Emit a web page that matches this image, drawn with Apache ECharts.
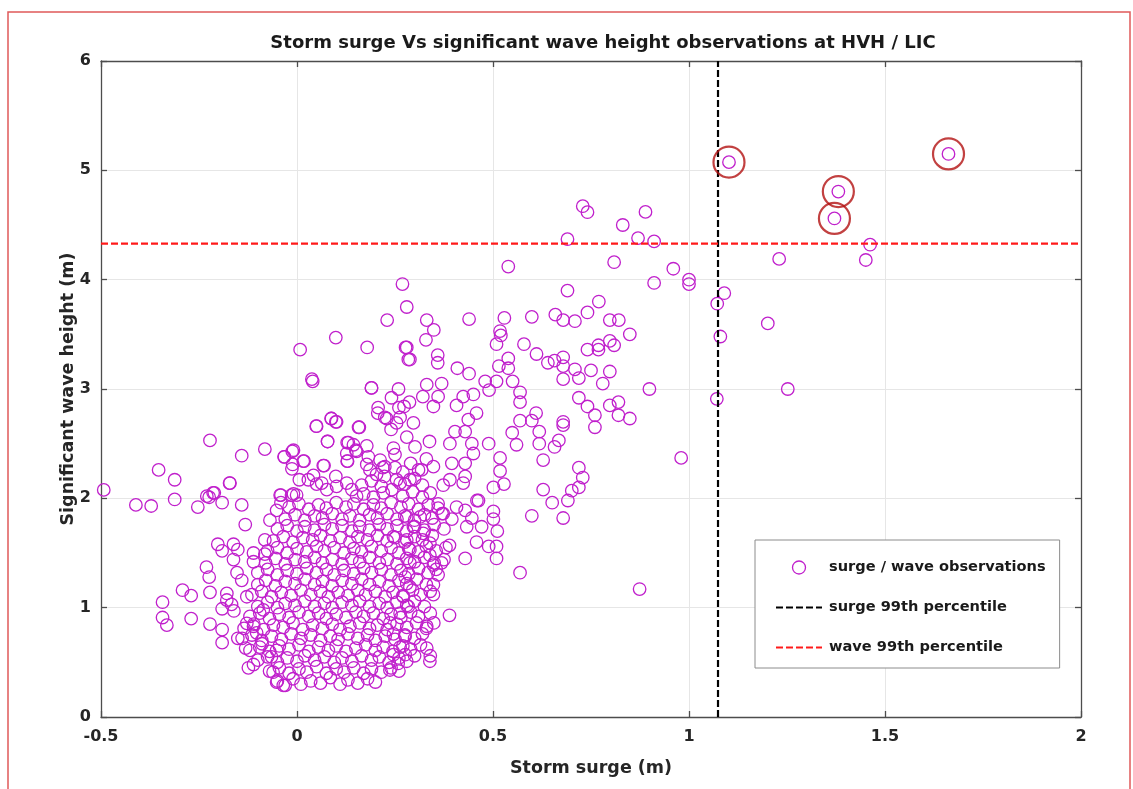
<!DOCTYPE html>
<html>
<head>
<meta charset="utf-8">
<script src="https://cdn.jsdelivr.net/npm/echarts@6/dist/echarts.min.js"></script>
<style>
html,body{margin:0;padding:0;background:#fff;}
#chart{width:1133px;height:789px;}
</style>
</head>
<body>
<div id="chart"></div>
<script>
// ---- data ----
const titleText = 'Storm surge Vs significant wave height observations at HVH / LIC';
const xAxisName = 'Storm surge (m)';
const yAxisName = 'Significant wave height (m)';
const xTicks = [-0.5, 0, 0.5, 1, 1.5, 2];
const yTicks = [0, 1, 2, 3, 4, 5, 6];
const surgeP99 = 1.074;
const waveP99 = 4.33;

// outliers and sparse points (surge m, wave m)
const sparsePoints = [
  [1.102,5.075],[1.381,4.806],[1.371,4.56],[1.662,5.15],[1.462,4.32],[1.451,4.18],[1.230,4.19],
  [1.090,3.876],[1.072,3.78],[1.201,3.60],[1.080,3.48],[1.252,3.00],[1.071,2.91],
  [0.729,4.672],[0.741,4.617],[0.889,4.62],[0.831,4.50],[0.690,4.37],[0.870,4.38],[0.911,4.35],
  [0.539,4.12],[0.809,4.16],[0.960,4.10],[1.000,4.00],[1.000,3.96],[0.911,3.97],[0.269,3.96],
  [0.690,3.90],[0.770,3.80],[0.280,3.75],[0.741,3.70],[0.659,3.68],[0.599,3.66],[0.230,3.63],
  [0.439,3.64],[0.529,3.65],[0.331,3.63],[0.679,3.63],[0.709,3.62],[0.798,3.63],[0.821,3.63],
  [0.349,3.54],[0.518,3.53],[0.520,3.49],[0.849,3.50],[0.329,3.45],[0.798,3.44],[0.809,3.40],
  [0.769,3.40],[0.769,3.36],[0.741,3.36],[0.509,3.41],[0.579,3.41],[0.280,3.38],[0.288,3.27],
  [0.359,3.31],[0.359,3.24],[0.611,3.32],[0.539,3.28],[0.539,3.19],[0.640,3.24],[0.679,3.29],
  [0.679,3.21],[0.679,3.09],[0.657,3.26],[0.709,3.18],[0.719,3.10],[0.750,3.17],[0.798,3.16],
  [0.780,3.05],[0.515,3.21],[0.409,3.19],[0.439,3.14],[0.480,3.07],[0.490,2.99],[0.509,3.07],
  [0.550,3.07],[0.569,2.97],[0.569,2.88],[0.899,3.00],[0.719,2.92],[0.741,2.84],[0.760,2.76],
  [0.760,2.65],[0.798,2.85],[0.820,2.88],[0.820,2.76],[0.849,2.73],[0.610,2.78],[0.599,2.71],
  [0.569,2.71],[0.618,2.61],[0.618,2.50],[0.549,2.60],[0.560,2.49],[0.679,2.70],[0.679,2.67],
  [0.668,2.53],[0.657,2.47],[0.628,2.35],[0.489,2.50],[0.518,2.37],[0.518,2.25],[0.528,2.13],
  [0.501,2.10],[0.719,2.28],[0.729,2.19],[0.719,2.10],[0.701,2.07],[0.691,1.98],[0.628,2.08],
  [0.651,1.96],[0.599,1.84],[0.679,1.82],[0.980,2.37],[0.874,1.17],[0.569,1.32],[0.501,1.88],
  [0.501,1.81],[0.511,1.70],[0.459,1.98],[0.471,1.74],[0.458,1.60],[0.489,1.56],[0.509,1.56],
  [0.509,1.45],[0.429,1.45],[0.389,1.57],[0.433,1.74],[0.446,1.82],[0.389,0.93],[0.331,0.83],
  [0.349,0.86],[0.331,0.63],[0.339,0.51],[0.348,1.12],[0.348,1.21],[0.360,1.30],[0.369,1.41],
  [0.099,3.47],[0.008,3.36],[0.179,3.38],[0.277,3.38],[0.284,3.27],[0.038,3.09],[0.190,3.01],
  [0.259,3.00],[0.241,2.92],[0.207,2.83],[0.260,2.83],[0.273,2.84],[0.088,2.73],[0.101,2.70],
  [0.206,2.78],[0.229,2.73],[0.240,2.63],[0.254,2.69],[0.050,2.66],[0.159,2.65],[0.078,2.52],
  [0.131,2.51],[0.144,2.49],[0.127,2.41],[0.129,2.34],[0.152,2.43],[0.178,2.48],[0.182,2.38],
  [0.178,2.31],[0.186,2.26],[0.212,2.35],[0.219,2.28],[0.203,2.22],[0.223,2.20],[0.246,2.46],
  [0.250,2.28],[0.254,2.17],[0.242,2.08],[-0.222,2.53],[-0.141,2.39],[-0.082,2.45],[-0.033,2.38],
  [-0.009,2.44],[-0.011,2.31],[0.018,2.34],[0.067,2.30],[0.006,2.17],[0.029,2.17],[0.042,2.21],
  [0.050,2.13],[0.063,2.14],[0.076,2.08],[0.101,2.11],[0.099,2.20],[0.127,2.14],[0.140,2.08],
  [0.152,2.02],[-0.171,2.14],[-0.214,2.05],[-0.230,2.02],[-0.043,2.03],[-0.014,2.03],
  [0.287,2.88],[0.321,2.93],[0.348,2.84],[0.369,3.05],[0.360,2.93],[0.331,3.04],
  [0.407,2.85],[0.424,2.93],[0.450,2.95],[0.458,2.78],[0.437,2.72],[0.429,2.61],[0.403,2.61],
  [0.390,2.50],[0.338,2.52],[0.301,2.47],[0.280,2.56],[0.224,2.74],[0.263,2.74],[0.297,2.69],
  [0.446,2.50],[0.450,2.41],[0.429,2.32],[0.429,2.20],[0.424,2.14],[0.395,2.32],[0.390,2.17],
  [0.373,2.12],[0.348,2.29],[0.318,2.26],[0.288,2.17],[0.263,2.14],[0.224,2.29],
  [0.463,1.98],[0.429,1.89],[0.407,1.92],[0.373,1.86],[0.360,1.95],[0.314,1.83],[0.280,1.83],
  [0.297,1.74],[0.280,1.62],[0.246,1.65],[0.322,1.68],[0.339,1.59],[0.339,1.48],[0.348,1.39],
  [0.288,1.53],[0.288,1.41],[0.276,1.28],[0.288,1.19],[0.271,1.10],[0.284,1.01],[0.263,0.95],
  [0.237,0.86],[0.246,0.76],[0.276,0.74],[0.263,0.64],[0.246,0.57],[0.276,0.57],[0.258,0.49],
  [0.237,0.43],
  [-0.493,2.077],[-0.411,1.94],[-0.372,1.93],[-0.353,2.26],[-0.312,2.17],[-0.312,1.99],
  [-0.253,1.92],[-0.224,2.01],[-0.211,2.05],[-0.191,1.96],[-0.172,2.14],[-0.141,1.94],
  [-0.132,1.76],[-0.032,2.38],[-0.012,2.43],[-0.013,2.27],[0.016,2.34],[0.049,2.66],
  [0.087,2.73],[0.099,2.70],[0.157,2.65],[0.190,3.01],[0.040,3.07],[0.078,2.52],[0.069,2.30],
  [0.128,2.51],[0.128,2.34],[0.150,2.44],[-0.202,1.58],[-0.191,1.52],[-0.162,1.58],
  [-0.151,1.53],[-0.162,1.44],[-0.231,1.37],[-0.224,1.28],[-0.292,1.16],[-0.270,1.11],
  [-0.343,1.05],[-0.343,0.91],[-0.332,0.84],[-0.270,0.90],[-0.222,1.14],[-0.222,0.85],
  [-0.191,0.80],[-0.191,0.68],[-0.179,1.13],[-0.179,1.07],[-0.167,1.03],[-0.161,0.97],
  [-0.191,0.99],[-0.151,0.72],[-0.131,0.63],[-0.124,0.45],[-0.111,0.48],[-0.153,1.32],
  [-0.141,1.25],[-0.128,1.10],[-0.128,0.857],[-0.111,0.83],[-0.086,0.98],[-0.103,0.77],
  [-0.089,0.67],[-0.111,1.50],[-0.111,1.42],[-0.082,1.49],[-0.082,1.62],[-0.069,1.80],
  [-0.052,1.89],[-0.041,2.03],[-0.041,1.96],[-0.009,2.04],[-0.001,2.03],[-0.061,0.41],
  [-0.052,0.32],[-0.035,0.29],[-0.065,0.55],[-0.052,0.61]
];

// dense core of the cloud (surge m, wave m)
const corePoints = [
  [-0.05,0.33],[-0.03,0.29],[-0.01,0.35],[0.01,0.30],[0.035,0.33],[0.06,0.31],[0.085,0.36],[0.11,0.30],[0.13,0.34],[0.155,0.31],[0.18,0.35],[0.2,0.32],
  [-0.07,0.42],[-0.045,0.45],[-0.02,0.40],[0.005,0.44],[0.025,0.41],[0.05,0.46],[0.075,0.40],[0.1,0.44],[0.12,0.41],[0.145,0.45],[0.17,0.40],[0.19,0.44],[0.215,0.41],[0.24,0.45],[0.26,0.42],[0.34,0.56],
  [-0.1,0.52],[-0.075,0.55],[-0.05,0.50],[-0.025,0.54],[0.0,0.51],[0.02,0.56],[0.045,0.52],[0.07,0.55],[0.095,0.50],[0.115,0.54],[0.14,0.51],[0.165,0.56],[0.19,0.52],[0.21,0.55],[0.235,0.50],[0.26,0.54],[0.28,0.51],[0.3,0.56],
  [-0.12,0.61],[-0.095,0.64],[-0.07,0.60],[-0.045,0.65],[-0.02,0.62],[0.005,0.66],[0.03,0.60],[0.055,0.64],[0.08,0.61],[0.1,0.65],[0.125,0.60],[0.15,0.63],[0.175,0.66],[0.2,0.61],[0.22,0.64],[0.245,0.60],[0.27,0.65],[0.29,0.62],[0.315,0.66],
  [-0.14,0.72],[-0.115,0.75],[-0.09,0.70],[-0.065,0.74],[-0.04,0.71],[-0.015,0.76],[0.01,0.72],[0.035,0.75],[0.06,0.70],[0.085,0.74],[0.105,0.71],[0.13,0.76],[0.155,0.72],[0.18,0.75],[0.2,0.70],[0.225,0.74],[0.25,0.71],[0.275,0.75],[0.3,0.72],[0.32,0.76],
  [-0.135,0.81],[-0.11,0.85],[-0.085,0.80],[-0.06,0.84],[-0.035,0.82],[-0.01,0.86],[0.015,0.80],[0.04,0.84],[0.065,0.81],[0.09,0.85],[0.11,0.80],[0.135,0.83],[0.16,0.86],[0.185,0.81],[0.205,0.84],[0.23,0.80],[0.255,0.85],[0.28,0.82],[0.305,0.86],[0.33,0.81],
  [-0.12,0.92],[-0.095,0.95],[-0.07,0.90],[-0.045,0.94],[-0.02,0.91],[0.005,0.96],[0.03,0.92],[0.055,0.95],[0.075,0.90],[0.1,0.94],[0.125,0.91],[0.15,0.96],[0.17,0.92],[0.195,0.95],[0.22,0.90],[0.24,0.94],[0.265,0.91],[0.29,0.96],[0.31,0.92],[0.34,0.95],
  [-0.1,1.01],[-0.075,1.05],[-0.05,1.00],[-0.03,1.04],[-0.005,1.02],[0.02,1.06],[0.045,1.01],[0.07,1.04],[0.09,1.00],[0.115,1.05],[0.14,1.02],[0.16,1.06],[0.185,1.01],[0.21,1.04],[0.23,1.00],[0.255,1.05],[0.28,1.02],[0.3,1.06],[0.325,1.01],
  [-0.115,1.12],[-0.09,1.15],[-0.065,1.10],[-0.04,1.14],[-0.015,1.11],[0.01,1.16],[0.035,1.12],[0.06,1.15],[0.08,1.10],[0.105,1.14],[0.13,1.11],[0.155,1.16],[0.175,1.12],[0.2,1.15],[0.225,1.10],[0.245,1.14],[0.27,1.11],[0.295,1.16],[0.315,1.12],[0.34,1.15],
  [-0.1,1.21],[-0.08,1.25],[-0.055,1.20],[-0.03,1.24],[-0.005,1.22],[0.02,1.26],[0.045,1.21],[0.065,1.24],[0.09,1.20],[0.115,1.25],[0.14,1.22],[0.165,1.26],[0.185,1.21],[0.21,1.24],[0.235,1.20],[0.26,1.25],[0.28,1.22],[0.305,1.26],[0.33,1.21],
  [-0.1,1.32],[-0.075,1.35],[-0.05,1.30],[-0.025,1.34],[0.0,1.31],[0.025,1.36],[0.05,1.32],[0.075,1.35],[0.095,1.30],[0.12,1.34],[0.145,1.31],[0.17,1.36],[0.19,1.32],[0.215,1.35],[0.24,1.30],[0.265,1.34],[0.285,1.31],[0.31,1.36],[0.335,1.32],[0.355,1.35],
  [-0.08,1.41],[-0.055,1.45],[-0.03,1.40],[-0.005,1.44],[0.02,1.42],[0.045,1.46],[0.065,1.41],[0.09,1.44],[0.115,1.40],[0.14,1.45],[0.16,1.42],[0.185,1.46],[0.21,1.41],[0.23,1.44],[0.255,1.40],[0.28,1.45],[0.3,1.42],[0.325,1.46],[0.35,1.41],[0.375,1.44],
  [-0.075,1.52],[-0.05,1.55],[-0.025,1.50],[0.0,1.54],[0.025,1.51],[0.05,1.56],[0.07,1.52],[0.095,1.55],[0.12,1.50],[0.145,1.54],[0.165,1.51],[0.19,1.56],[0.215,1.52],[0.24,1.55],[0.26,1.50],[0.285,1.54],[0.31,1.51],[0.33,1.56],[0.355,1.52],[0.38,1.55],
  [-0.06,1.61],[-0.035,1.65],[-0.01,1.60],[0.015,1.64],[0.04,1.62],[0.06,1.66],[0.085,1.61],[0.11,1.64],[0.135,1.60],[0.155,1.65],[0.18,1.62],[0.205,1.66],[0.23,1.61],[0.25,1.64],[0.275,1.60],[0.3,1.65],[0.32,1.62],[0.345,1.66],
  [-0.05,1.72],[-0.025,1.75],[0.0,1.70],[0.02,1.74],[0.045,1.71],[0.07,1.76],[0.09,1.72],[0.115,1.75],[0.14,1.70],[0.16,1.74],[0.185,1.71],[0.21,1.76],[0.23,1.72],[0.255,1.75],[0.28,1.70],[0.3,1.74],[0.325,1.71],[0.35,1.76],[0.375,1.72],
  [-0.03,1.81],[-0.005,1.85],[0.02,1.80],[0.045,1.84],[0.065,1.82],[0.09,1.86],[0.115,1.81],[0.135,1.84],[0.16,1.80],[0.185,1.85],[0.205,1.82],[0.23,1.86],[0.255,1.81],[0.275,1.84],[0.3,1.80],[0.325,1.85],[0.345,1.82],[0.37,1.86],[0.395,1.81],
  [-0.02,1.92],[0.005,1.95],[0.03,1.90],[0.055,1.94],[0.075,1.91],[0.1,1.96],[0.125,1.92],[0.145,1.95],[0.17,1.90],[0.195,1.94],[0.215,1.91],[0.24,1.96],[0.265,1.92],[0.285,1.95],[0.31,1.90],[0.335,1.94],[0.36,1.91],
  [0.17,2.04],[0.195,2.01],[0.22,2.05],[0.27,2.02],[0.295,2.06],[0.32,2.01],[0.34,2.05],
  [0.165,2.12],[0.19,2.16],[0.215,2.11],[0.275,2.13],[0.3,2.18],[0.32,2.12],
  [0.27,2.24],[0.29,2.32],[0.31,2.26],[0.33,2.36],[0.25,2.40]
];

// events above both percentiles (circled)
const extremeEvents = [[1.102,5.075],[1.381,4.806],[1.371,4.56],[1.662,5.15]];

const seriesNames = ['surge / wave observations', 'surge 99th percentile', 'wave 99th percentile'];

// ---- chart ----
const FONT = 'DejaVu Sans';
const chart = echarts.init(document.getElementById('chart'), null, {renderer: 'canvas'});
const observations = corePoints.concat(sparsePoints);

const axisLineStyle = {color: '#4d4d4d', width: 1.3};
const hiddenSymbol = {color: 'rgba(0,0,0,0)', borderColor: 'rgba(0,0,0,0)', borderWidth: 0};
const option = {
  backgroundColor: '#ffffff',
  animation: false,
  title: {
    text: titleText,
    left: 598, top: 29, textAlign: 'center',
    textStyle: {fontFamily: FONT, fontWeight: 'bold', fontSize: 18, color: '#1a1a1a'}
  },
  graphic: [{
    type: 'rect', silent: true, z: -1,
    shape: {x: 8, y: 12, width: 1122, height: 800},
    style: {fill: 'none', stroke: '#e05a5a', lineWidth: 1.5}
  }],
  grid: {left: 101, right: 52, top: 61, bottom: 72, show: false},
  legend: {
    orient: 'vertical', left: 755, top: 540,
    backgroundColor: '#ffffff', borderColor: '#8c8c8c', borderWidth: 1,
    padding: [20, 14, 13, 20], itemGap: 25, itemWidth: 46, itemHeight: 13,
    textStyle: {fontFamily: FONT, fontWeight: 'bold', fontSize: 14.6, color: '#1a1a1a', padding: [0, 0, 0, 2]},
    data: [
      {name: seriesNames[0], icon: 'circle', itemStyle: {color: 'rgba(0,0,0,0)', borderColor: '#c020cc', borderWidth: 1.3}},
      {name: seriesNames[1], itemStyle: hiddenSymbol},
      {name: seriesNames[2], itemStyle: hiddenSymbol}
    ]
  },
  xAxis: [{
    type: 'value', min: xTicks[0], max: xTicks[xTicks.length - 1], interval: 0.5,
    name: xAxisName, nameLocation: 'middle', nameGap: 42,
    nameTextStyle: {fontFamily: FONT, fontWeight: 'bold', fontSize: 17.5, color: '#262626'},
    axisLine: {show: true, onZero: false, lineStyle: axisLineStyle},
    axisTick: {show: true, inside: true, length: 6, lineStyle: axisLineStyle},
    axisLabel: {fontFamily: FONT, fontWeight: 'bold', fontSize: 16, color: '#262626', margin: 12,
      formatter: v => String(v)},
    splitLine: {show: true, lineStyle: {color: '#e6e6e6', width: 1}}
  }, {
    type: 'value', position: 'top', min: xTicks[0], max: xTicks[xTicks.length - 1], interval: 0.5,
    axisLine: {show: true, onZero: false, lineStyle: axisLineStyle},
    axisTick: {show: true, inside: true, length: 6, lineStyle: axisLineStyle},
    axisLabel: {show: false}, splitLine: {show: false}
  }],
  yAxis: [{
    type: 'value', min: yTicks[0], max: yTicks[yTicks.length - 1], interval: 1,
    name: yAxisName, nameLocation: 'middle', nameGap: 24, nameMoveOverlap: false,
    nameTextStyle: {fontFamily: FONT, fontWeight: 'bold', fontSize: 17.5, color: '#262626'},
    axisLine: {show: true, onZero: false, lineStyle: axisLineStyle},
    axisTick: {show: true, inside: true, length: 6, lineStyle: axisLineStyle},
    axisLabel: {fontFamily: FONT, fontWeight: 'bold', fontSize: 16, color: '#262626', margin: 10},
    splitLine: {show: true, lineStyle: {color: '#e6e6e6', width: 1}}
  }, {
    type: 'value', position: 'right', min: yTicks[0], max: yTicks[yTicks.length - 1], interval: 1,
    axisLine: {show: true, onZero: false, lineStyle: axisLineStyle},
    axisTick: {show: true, inside: true, length: 6, lineStyle: axisLineStyle},
    axisLabel: {show: false}, splitLine: {show: false}
  }],
  series: [{
    name: seriesNames[0], type: 'scatter', data: observations,
    symbol: 'circle', symbolSize: 12.5,
    itemStyle: {color: 'rgba(0,0,0,0)', borderColor: '#c020cc', borderWidth: 1.3, opacity: 1},
    z: 2
  }, {
    name: seriesNames[1], type: 'line', data: [[surgeP99, yTicks[0]], [surgeP99, yTicks[yTicks.length - 1]]],
    symbol: 'none', showSymbol: false, color: '#000000',
    lineStyle: {color: '#000000', width: 2.2, type: [7, 3]}, z: 3
  }, {
    name: seriesNames[2], type: 'line', data: [[xTicks[0], waveP99], [xTicks[xTicks.length - 1], waveP99]],
    symbol: 'none', showSymbol: false, color: '#ff1a1a',
    lineStyle: {color: '#ff1a1a', width: 2.2, type: [7, 3]}, z: 3
  }, {
    name: 'extreme events', type: 'scatter', data: extremeEvents,
    symbol: 'circle', symbolSize: 31,
    itemStyle: {color: 'rgba(0,0,0,0)', borderColor: '#b31212', borderWidth: 2.2},
    z: 4
  }]
};
chart.setOption(option);
</script>
</body>
</html>
